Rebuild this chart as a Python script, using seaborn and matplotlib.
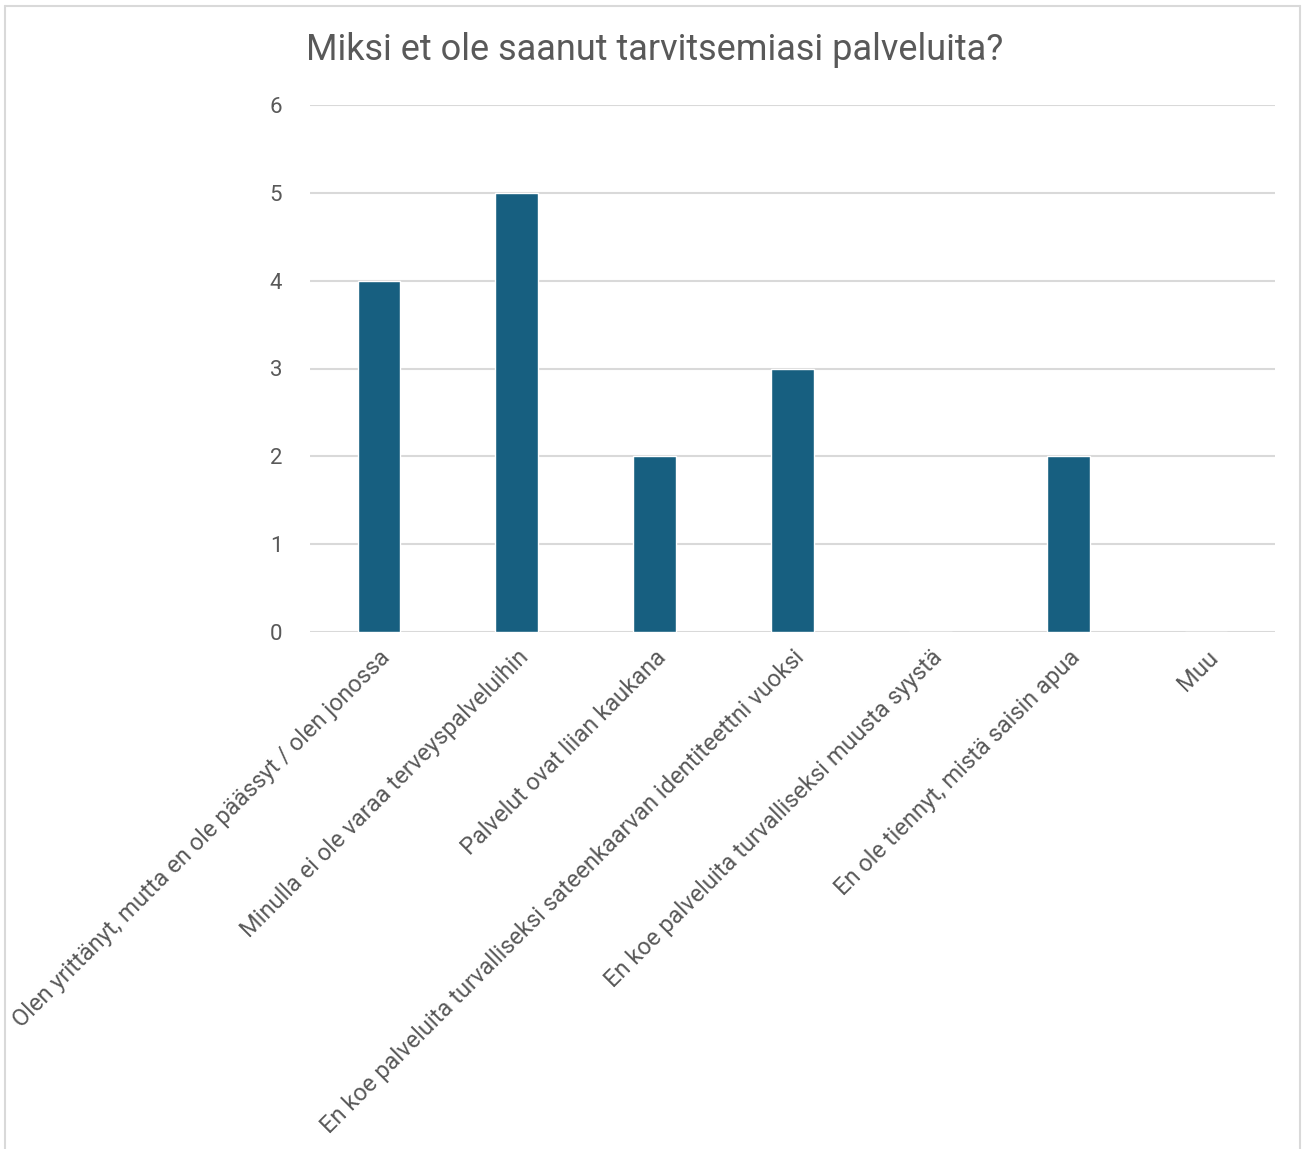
import matplotlib
matplotlib.use("Agg")
import matplotlib.pyplot as plt
import seaborn as sns
import pandas as pd

categories = [
    "Olen yrittänyt, mutta en ole päässyt / olen jonossa",
    "Minulla ei ole varaa terveyspalveluihin",
    "Palvelut ovat liian kaukana",
    "En koe palveluita turvalliseksi sateenkaarvan identiteettni vuoksi",
    "En koe palveluita turvalliseksi muusta syystä",
    "En ole tiennyt, mistä saisin apua",
    "Muu",
]
counts = [4, 5, 2, 3, 0, 2, 0]
y_ticks = [0, 1, 2, 3, 4, 5, 6]

df = pd.DataFrame({"category": categories, "count": counts})

sns.set_theme(style="white")
plt.rcParams["font.family"] = ["Roboto", "DejaVu Sans"]
text_color = "#595959"

fig = plt.figure(figsize=(13.05, 11.49), dpi=100)
ax = fig.add_axes([310 / 1305, 1 - 632 / 1149, 965 / 1305, 527 / 1149])

sns.barplot(data=df, x="category", y="count", color="#175F80", width=0.31,
            saturation=1, ax=ax, zorder=3)

ax.set_ylim(0, 6)
ax.set_yticks(y_ticks)
ax.grid(axis="y", color="#d9d9d9", linewidth=1.5, zorder=0)
ax.set_xlabel("")
ax.set_ylabel("")
for s in ax.spines.values():
    s.set_visible(False)
ax.tick_params(axis="both", length=0, labelsize=16, colors=text_color)
ax.tick_params(axis="y", pad=20)
ax.tick_params(axis="x", pad=10)
ax.set_xticks(range(len(categories)))
ax.set_xticklabels(categories, rotation=45, ha="right", rotation_mode="anchor",
                   color=text_color, fontsize=17)

fig.text(655 / 1305, 1 - 50 / 1149, "Miksi et ole saanut tarvitsemiasi palveluita?",
         ha="center", va="center", fontsize=26, color=text_color)

# thin frame around the chart area
border = "#d9d9d9"
fig.add_artist(plt.Line2D([5 / 1305, 1300 / 1305], [1 - 6 / 1149, 1 - 6 / 1149],
                          color=border, lw=1.5, transform=fig.transFigure))
fig.add_artist(plt.Line2D([5 / 1305, 5 / 1305], [0, 1 - 6 / 1149],
                          color=border, lw=1.5, transform=fig.transFigure))
fig.add_artist(plt.Line2D([1300 / 1305, 1300 / 1305], [0, 1 - 6 / 1149],
                          color=border, lw=1.5, transform=fig.transFigure))

fig.savefig("out.png", dpi=100, facecolor="white")
